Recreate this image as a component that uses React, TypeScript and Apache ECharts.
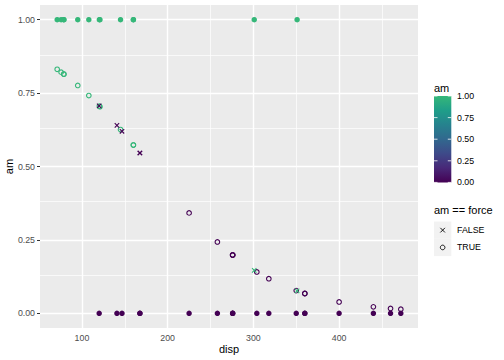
import React, { useEffect, useRef } from "react";
import * as echarts from "echarts";

// mtcars: disp, am, and fitted P(am) from a logistic fit
const disp = [160, 160, 108, 258, 360, 225, 360, 146.7, 140.8, 167.6, 167.6, 275.8, 275.8, 275.8, 472, 460, 440, 78.7, 75.7, 71.1, 120.1, 318, 304, 350, 400, 79, 120.3, 95.1, 351, 145, 301, 121];
const am = [1, 1, 1, 0, 0, 0, 0, 0, 0, 0, 0, 0, 0, 0, 0, 0, 0, 1, 1, 1, 0, 0, 0, 0, 0, 1, 1, 1, 1, 1, 1, 1];
const fitted = [0.5731, 0.5731, 0.7415, 0.2431, 0.0675, 0.342, 0.0675, 0.6199, 0.64, 0.5459, 0.5459, 0.1985, 0.1985, 0.1985, 0.0139, 0.0166, 0.022, 0.8148, 0.8213, 0.831, 0.7063, 0.1179, 0.1409, 0.0773, 0.0388, 0.8142, 0.7057, 0.776, 0.0763, 0.6257, 0.1463, 0.7035];

const xMajor = [100, 200, 300, 400];
const xMinor = [150, 250, 350, 450];
const yMajor = [0, 0.25, 0.5, 0.75, 1];
const yMinor = [0.125, 0.375, 0.625, 0.875];
const colorBreaks = [0, 0.25, 0.5, 0.75, 1];
const shapeLabels = ["FALSE", "TRUE"];

const palette = ["#440154", "#482878", "#3E4A89", "#31688E", "#26828E", "#1F9E89", "#35B779"];

const FONT = "Liberation Sans, Arial, Helvetica, sans-serif";
const CROSS = "path://M0,0L10,10M10,0L0,10";

function colorOf(v: number) {
  return echarts.color.lerp(v, palette) as string;
}

export default function App() {
  const ref = useRef<HTMLDivElement>(null);
  useEffect(() => {
    if (!ref.current) return;
    const chart = echarts.init(ref.current, null, { renderer: "svg" });

    const gridLeft = 40, gridTop = 5, gridRight = 86, gridBottom = 32;

    const actualData = disp.map((d, i) => ({
      value: [d, am[i]],
      itemStyle: { color: colorOf(am[i]), borderWidth: 0, opacity: 1 },
    }));
    const fitMatch: any[] = [];
    const fitMiss: any[] = [];
    disp.forEach((d, i) => {
      const force = fitted[i] > 0.5 ? 1 : 0;
      const c = colorOf(am[i]);
      const item = {
        value: [d, fitted[i]],
        itemStyle: { color: "rgba(0,0,0,0)", borderColor: c, borderWidth: 1.1, opacity: 1 },
      };
      if (force === am[i]) fitMatch.push(item);
      else fitMiss.push(item);
    });

    const gridLine = (vals: number[], axis: "xAxis" | "yAxis", w: number) => ({
      silent: true,
      z: 1,
      symbol: ["none", "none"],
      label: { show: false },
      lineStyle: { color: "#FFFFFF", width: w, type: "solid", opacity: 1 },
      emphasis: { disabled: true },
      data: vals.map((v) => ({ [axis]: v })),
    });

    const cbX = 434, cbTop = 96, cbW = 17.3, cbH = 86.4;
    const cbY = (v: number) => cbTop + cbH - v * cbH;
    const gradStops = palette
      .map((c, i) => ({ offset: 1 - i / (palette.length - 1), color: c }))
      .reverse();

    const graphics: any[] = [
      { type: "text", left: cbX, top: 82, style: { text: "am", font: `11px ${FONT}`, fill: "#000" } },
      {
        type: "rect",
        shape: { x: cbX, y: cbTop, width: cbW, height: cbH },
        style: { fill: new echarts.graphic.LinearGradient(0, 0, 0, 1, gradStops) },
      },
    ];
    colorBreaks.forEach((b) => {
      const y = cbY(b);
      graphics.push({ type: "line", shape: { x1: cbX, y1: y, x2: cbX + 3.5, y2: y }, style: { stroke: "#FFFFFF", lineWidth: 0.8 } });
      graphics.push({ type: "line", shape: { x1: cbX + cbW - 3.5, y1: y, x2: cbX + cbW, y2: y }, style: { stroke: "#FFFFFF", lineWidth: 0.8 } });
      graphics.push({
        type: "text",
        x: 457,
        y: y,
        style: { text: b.toFixed(2), font: `8.8px ${FONT}`, fill: "#000", textVerticalAlign: "middle" },
      });
    });
    graphics.push({ type: "text", left: cbX, top: 204, style: { text: "am == force", font: `11px ${FONT}`, fill: "#000" } });
    const keyTop = 221.5, keyH = 17.3;
    shapeLabels.forEach((lab, i) => {
      const y0 = keyTop + i * keyH;
      graphics.push({ type: "rect", shape: { x: cbX, y: y0, width: cbW, height: keyH }, style: { fill: "#F2F2F2" } });
      const cx = cbX + cbW / 2, cy = y0 + keyH / 2;
      if (lab === "FALSE") {
        graphics.push({ type: "line", shape: { x1: cx - 2.3, y1: cy - 2.3, x2: cx + 2.3, y2: cy + 2.3 }, style: { stroke: "#000", lineWidth: 0.9 } });
        graphics.push({ type: "line", shape: { x1: cx - 2.3, y1: cy + 2.3, x2: cx + 2.3, y2: cy - 2.3 }, style: { stroke: "#000", lineWidth: 0.9 } });
      } else {
        graphics.push({ type: "circle", shape: { cx, cy, r: 2.3 }, style: { fill: "none", stroke: "#000", lineWidth: 0.9 } });
      }
      graphics.push({ type: "text", x: 457, y: cy, style: { text: lab, font: `8.8px ${FONT}`, fill: "#000", textVerticalAlign: "middle" } });
    });

    chart.setOption({
      animation: false,
      backgroundColor: "#FFFFFF",
      textStyle: { fontFamily: FONT },
      grid: {
        left: gridLeft,
        top: gridTop,
        right: gridRight,
        bottom: gridBottom,
        show: true,
        backgroundColor: "#EBEBEB",
        borderWidth: 0,
        containLabel: false,
        outerBoundsMode: "none",
      },
      xAxis: {
        type: "value",
        min: 51.05,
        max: 492.05,
        name: "disp",
        nameLocation: "middle",
        nameGap: 15,
        nameMoveOverlap: false,
        nameTextStyle: { fontSize: 11, color: "#000", fontFamily: FONT },
        axisLine: { show: false },
        axisTick: { show: true, length: 3, lineStyle: { color: "#333333", width: 1 }, customValues: xMajor },
        axisLabel: { color: "#4D4D4D", fontSize: 8.8, margin: 5, fontFamily: FONT, customValues: xMajor, formatter: (v: number) => String(v) },
        splitLine: { show: false },
      },
      yAxis: {
        type: "value",
        min: -0.05,
        max: 1.05,
        name: "am",
        nameLocation: "middle",
        nameGap: 26,
        nameMoveOverlap: false,
        nameRotate: 90,
        nameTextStyle: { fontSize: 11, color: "#000", fontFamily: FONT },
        axisLine: { show: false },
        axisTick: { show: true, length: 3, lineStyle: { color: "#333333", width: 1 }, customValues: yMajor },
        axisLabel: { color: "#4D4D4D", fontSize: 8.8, margin: 5, fontFamily: FONT, customValues: yMajor, formatter: (v: number) => v.toFixed(2) },
        splitLine: { show: false },
      },
      graphic: graphics,
      series: [
        { type: "scatter", data: [], z: 1, markLine: gridLine(xMinor, "xAxis", 0.7) },
        { type: "scatter", data: [], z: 1, markLine: gridLine(yMinor, "yAxis", 0.7) },
        { type: "scatter", data: [], z: 1, markLine: gridLine(xMajor, "xAxis", 1.4) },
        { type: "scatter", data: [], z: 1, markLine: gridLine(yMajor, "yAxis", 1.4) },
        { type: "scatter", data: actualData, symbol: "circle", symbolSize: 5.5, z: 3, silent: true, itemStyle: { opacity: 1 } },
        { type: "scatter", data: fitMatch, symbol: "circle", symbolSize: 4.6, z: 4, silent: true, itemStyle: { opacity: 1 } },
        { type: "scatter", data: fitMiss, symbol: CROSS, symbolSize: 4.4, z: 4, silent: true, itemStyle: { opacity: 1 } },
      ],
    });
    return () => chart.dispose();
  }, []);
  return <div ref={ref} style={{ width: 504, height: 360, position: "absolute", left: 0, top: 0 }} />;
}
